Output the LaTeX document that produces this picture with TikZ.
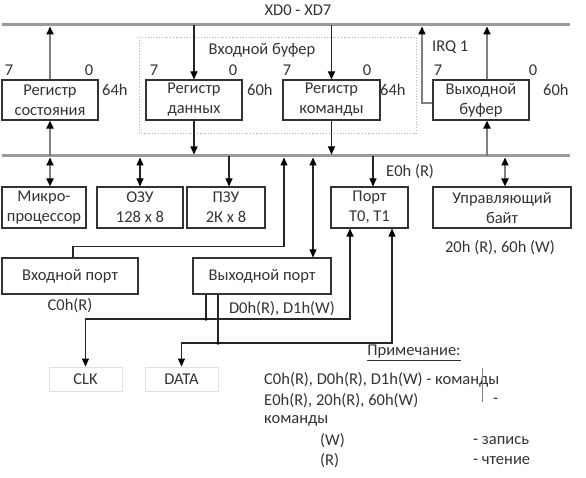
\documentclass[tikz,border=0pt]{standalone}
\usepackage{fontspec}
\setmainfont{Carlito}
\usetikzlibrary{arrows.meta}
\definecolor{busgray}{HTML}{9A9A9A}
\definecolor{lngray}{HTML}{808080}
\definecolor{txtgray}{HTML}{333333}
\tikzset{
  blk/.style={draw=txtgray, line width=1.1pt, align=center},
  sigbox/.style={draw=black!12, line width=1pt, minimum width=73pt, minimum height=24pt},
  bus/.style={draw=busgray, line width=3pt},
  wire/.style={draw=black!85, line width=1.1pt},
  gwire/.style={draw=lngray, line width=1.8pt},
  arr/.style={-{Triangle[length=8pt,width=7pt,color=black]}},
  onetip/.style={arr, shorten >=1.5pt},
  twotip/.style={{Triangle[length=8pt,width=7pt,color=black]}-{Triangle[length=8pt,width=7pt,color=black]}, shorten <=1.5pt}
}
\begin{document}
\begin{tikzpicture}[x=1pt, y=-1pt, font=\fontsize{16.5}{20}\selectfont,
    every node/.style={inner sep=0pt, text=txtgray}]
    \useasboundingbox (0,0) rectangle (586,478);

    % шины XD0 - XD7 и внутренняя
    \coordinate (xdL) at (2,25);
    \coordinate (xdR) at (570,25);
    \coordinate (ibL) at (2,156);
    \coordinate (ibR) at (570,156);
    \draw[bus] (xdL) -- (xdR);
    \draw[bus] (ibL) -- (ibR);
    \node (xdlab) at (298,10) {XD0 - XD7};

    % входной буфер
    \draw[dotted, black!30, line width=0.8pt] (139,37) rectangle (416,133);
    \node (inbuflab) at (262,50) {Входной буфер};
    \node[anchor=west] (irqlab) at (432,47) {IRQ 1};

    % регистры
    \node[blk, minimum width=96pt, minimum height=40pt] (stat) at (50,100) {Регистр\\состояния};
    \node[blk, minimum width=96pt, minimum height=40pt] (data) at (194,100) {Регистр\\данных};
    \node[blk, minimum width=97pt, minimum height=40pt] (cmd) at (331.5,100) {Регистр\\команды};
    \node[blk, minimum width=96pt, minimum height=40pt] (outb) at (481,100) {Выходной\\буфер};
    \foreach \x/\b in {9/7, 89/0, 154/7, 233/0, 287/7, 367/0, 438/7, 533/0}{
        \node at (\x,70) {\b};
    }
    \foreach \x/\a in {102/64h, 247/60h, 380/64h, 543/60h}{
        \node[anchor=west] at (\x,90) {\a};
    }

    % блоки под внутренней шиной
    \node[blk, minimum width=84pt, minimum height=41pt] (cpu) at (44,207.5) {Микро-\\процессор};
    \node[blk, minimum width=86pt, minimum height=41pt] (ram) at (140,207.5) {ОЗУ\\128 x 8};
    \node[blk, minimum width=78pt, minimum height=41pt] (rom) at (226,207.5) {ПЗУ\\2К x 8};
    \node[blk, minimum width=77pt, minimum height=41pt] (tport) at (369.5,207.5) {Порт\\T0, T1};
    \node[blk, minimum width=138pt, minimum height=41pt] (ctrl) at (502,207.5) {Управляющий\\байт};
    \node[blk, minimum width=136pt, minimum height=36pt] (inport) at (70,276) {Входной порт};
    \node[blk, minimum width=138pt, minimum height=36pt] (outport) at (262,276) {Выходной порт};
    \node[sigbox] (clk) at (85.5,379) {CLK};
    \node[sigbox] (dat) at (181.5,379) {DATA};

    % связи регистров с шинами
    \draw[gwire, onetip] (stat.north) -- (stat.north |- xdL);
    \draw[gwire, arr] (stat.south |- ibL) -- (stat.south);
    \draw[gwire, twotip] (stat.south |- ibL) -- ([xshift=6pt]cpu.north);
    \draw[wire, arr] (data.north |- xdL) -- (data.north);
    \draw[wire, onetip] (data.south) -- (data.south |- ibL);
    \draw[wire, arr] (cmd.north |- xdL) -- (cmd.north);
    \draw[wire, onetip] (cmd.south) -- (cmd.south |- ibL);
    \draw[gwire, onetip] ([xshift=6pt]outb.north) -- ([xshift=6pt]outb.north |- xdL);
    \draw[gwire, arr] ([xshift=6pt]outb.south |- ibL) -- ([xshift=6pt]outb.south);
    \coordinate (irq) at (422,25);
    \draw[gwire, line width=1.1pt, onetip] ([yshift=-3pt]outb.west) -| (irq);

    % ОЗУ, ПЗУ, порт T0/T1, управляющий байт
    \draw[wire, twotip] (ram.north |- ibL) -- (ram.north);
    \draw[wire, arr] ([xshift=3pt]rom.north |- ibL) -- ([xshift=3pt]rom.north);
    \draw[wire, arr] ([xshift=3.5pt]tport.north |- ibL) -- ([xshift=3.5pt]tport.north);
    \node[anchor=west] (e0lab) at (386,172) {E0h (R)};
    \draw[gwire, twotip] ([xshift=3pt]ctrl.north |- ibL) -- ([xshift=3pt]ctrl.north);
    \node (ctrladdr) at (500,248) {20h (R), 60h (W)};

    % входной и выходной порты
    \coordinate (inbus) at (284,156);
    \draw[wire, onetip] ([xshift=3pt]inport.north) -- ++(0,-11) -| (inbus);
    \node (inaddr) at (70,306) {C0h(R)};
    \draw[wire, twotip] ([xshift=51pt]outport.north |- ibL) -- ([xshift=51pt]outport.north);
    \node (outaddr) at (282,309) {D0h(R), D1h(W)};

    % линии к CLK, DATA и T0, T1
    \coordinate (j1) at (206,319);
    \coordinate (j2) at (218,343);
    \draw[wire] ([xshift=-56pt]outport.south) -- (j1);
    \draw[wire] ([xshift=-44pt]outport.south) -- (j2);
    \draw[wire, arr] (j1) -| (clk.north);
    \draw[wire, arr] (j1) -| ([xshift=-19.5pt]tport.south);
    \draw[wire, arr] (j2) -| (dat.north);
    \draw[wire, arr] (j2) -| ([xshift=22.5pt]tport.south);
    \fill (j1) circle (1.8pt);
    \fill (j2) circle (1.8pt);

    % примечание
    \node (notehead) at (414,353) {\underline{Примечание:}};
    \node[anchor=west] (note1) at (264,380) {C0h(R), D0h(R), D1h(W) - команды};
    \node[anchor=west] (note2) at (264,401) {E0h(R), 20h(R), 60h(W)};
    \node[anchor=west] (note2d) at (493,401) {-};
    \node[anchor=west] (note3) at (264,421) {команды};
    \node[anchor=west] (notew) at (320,441) {(W)};
    \node[anchor=west] (notewd) at (473,441) {- запись};
    \node[anchor=west] (noter) at (320,461) {(R)};
    \node[anchor=west] (noterd) at (473,461) {- чтение};
    \draw[lngray, line width=1pt] (482,368) -- (482,402);
\end{tikzpicture}
\end{document}
